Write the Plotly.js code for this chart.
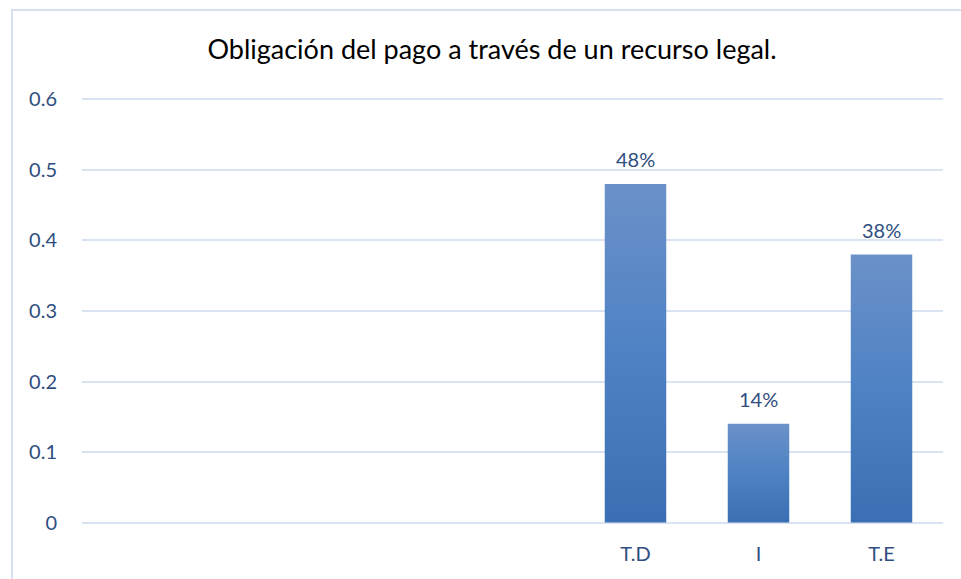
<!DOCTYPE html>
<html>
<head>
<meta charset="utf-8">
<script src="https://cdn.plot.ly/plotly-3.0.1.min.js"></script>
<style>html,body{margin:0;padding:0;background:#fff;}#chart{width:961px;height:579px;}</style>
</head>
<body>
<div id="chart"></div>
<script>
const chartTitle = "Obligación del pago a través de un recurso legal.";
const categories = ["T.D", "I", "T.E"];
const values = [0.48, 0.14, 0.38];
const yTicks = [0, 0.1, 0.2, 0.3, 0.4, 0.5, 0.6];

const textColor = "#2F4E80";
const fontFam = "Lato, 'Open Sans', sans-serif";

const labels = values.map(v => Math.round(v * 100) + "%");

const trace = {
  type: "bar",
  x: categories,
  y: values,
  marker: { color: "#5282C2" },
  hoverinfo: "x+y"
};

const annotations = categories.map((c, i) => ({
  x: c, y: values[i], xref: "x", yref: "y",
  text: labels[i], showarrow: false, yanchor: "middle", yshift: 25,
  font: { family: fontFam, size: 20, color: textColor }
}));

const layout = {
  width: 961, height: 579,
  margin: { l: 82, r: 18, t: 98, b: 55 },
  paper_bgcolor: "#fff", plot_bgcolor: "#fff",
  title: {
    text: chartTitle, xref: "container", yref: "container",
    x: 0.512, xanchor: "center", y: 1 - 50 / 579, yanchor: "middle",
    font: { family: fontFam, size: 27, color: "#000" }
  },
  xaxis: {
    type: "category", range: [-4.5, 2.5], showgrid: false, zeroline: false,
    showline: false, ticks: "", ticklabelstandoff: 16,
    tickfont: { family: fontFam, size: 20, color: textColor }, fixedrange: true
  },
  yaxis: {
    range: [-0.002, 0.602], tickvals: yTicks, ticktext: yTicks.map(String),
    showgrid: true, gridcolor: "#D9E3F1", gridwidth: 2, zeroline: false,
    showline: false, ticks: "", ticklabelstandoff: 24,
    tickfont: { family: fontFam, size: 20, color: textColor }, fixedrange: true
  },
  bargap: 0.5,
  showlegend: false,
  annotations: annotations,
  shapes: [{
    type: "rect", xref: "paper", yref: "paper",
    x0: (12 - 82) / 861, x1: 1.2, y0: -0.3, y1: (524 - 10) / 426,
    line: { color: "#D6E0EE", width: 2 }, fillcolor: "rgba(0,0,0,0)", layer: "below"
  }]
};

function applyGradient(gd) {
  const svgNS = "http://www.w3.org/2000/svg";
  const svg = gd.querySelector(".main-svg");
  let defs = svg.querySelector("defs");
  if (!defs) { defs = document.createElementNS(svgNS, "defs"); svg.insertBefore(defs, svg.firstChild); }
  const grad = document.createElementNS(svgNS, "linearGradient");
  grad.setAttribute("id", "barGrad");
  grad.setAttribute("x1", "0"); grad.setAttribute("y1", "0");
  grad.setAttribute("x2", "0"); grad.setAttribute("y2", "1");
  [["0%", "#6B91C8"], ["50%", "#4E82C4"], ["100%", "#3A6FB3"]].forEach(([o, c]) => {
    const s = document.createElementNS(svgNS, "stop");
    s.setAttribute("offset", o); s.setAttribute("stop-color", c);
    grad.appendChild(s);
  });
  defs.appendChild(grad);
  gd.querySelectorAll(".bars .point path").forEach(p => { p.style.fill = "url(#barGrad)"; });
}

Plotly.newPlot("chart", [trace], layout, { displayModeBar: false, staticPlot: true })
  .then(applyGradient);
</script>
</body>
</html>
